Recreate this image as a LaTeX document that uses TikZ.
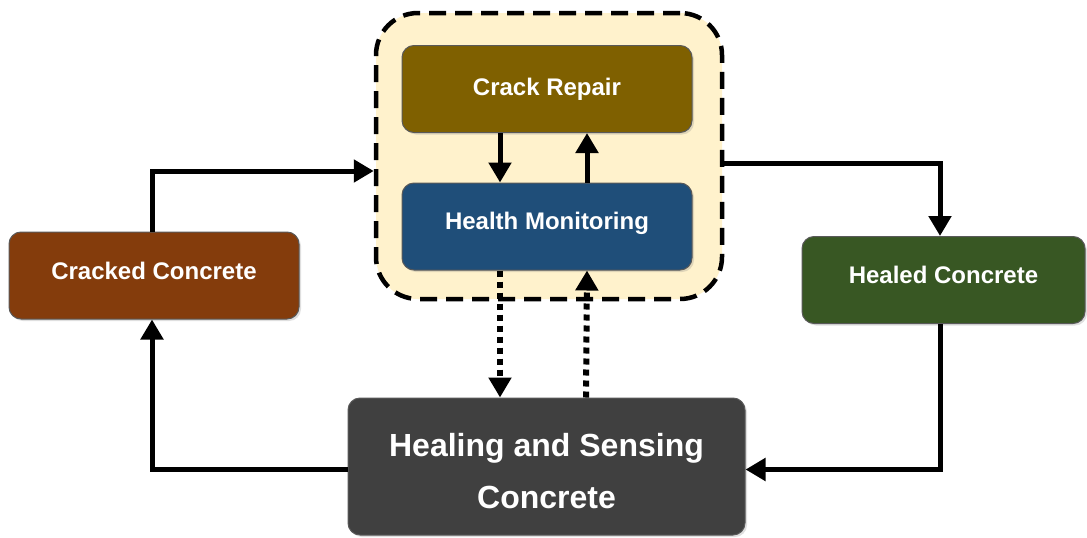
\documentclass[tikz,border=0pt]{standalone}
\usepackage{fontspec}
\setmainfont{Liberation Sans}
\usetikzlibrary{arrows.meta,shadows}
\definecolor{repairc}{HTML}{7F6000}
\definecolor{monitorc}{HTML}{1F4E79}
\definecolor{crackedc}{HTML}{843C0C}
\definecolor{healedc}{HTML}{385723}
\definecolor{healingc}{HTML}{404040}
\definecolor{contc}{HTML}{FFF2CC}
\tikzset{
  box/.style={rectangle, rounded corners=12pt, draw=black!65, line width=1pt,
    text=white, font=\bfseries\fontsize{24}{29}\selectfont, align=center,
    drop shadow={shadow xshift=2pt, shadow yshift=-2pt, opacity=0.25}},
  bigtext/.style={text=white, font=\bfseries\fontsize{32}{52}\selectfont, align=center},
  container/.style={rectangle, rounded corners=42pt, fill=contc, draw=black,
    line width=4.5pt, dash pattern=on 17pt off 9pt},
  arr/.style={line width=5pt, -{Triangle[width=22pt,length=20pt]}},
  dotarr/.style={line width=6pt, dash pattern=on 6pt off 5pt, -{Triangle[width=22pt,length=20pt]}}
}
\begin{document}
\begin{tikzpicture}[x=1pt,y=-1pt]
\useasboundingbox (0,0) rectangle (1087,538);
\node[container, minimum width=346pt, minimum height=286pt] (cont) at (549,156) {};
\node[box, fill=repairc, minimum width=290pt, minimum height=87pt] (repair) at (547,89) {Crack Repair};
\node[box, fill=monitorc, minimum width=290pt, minimum height=87pt, text depth=11pt] (hm) at (547,226.5) {Health Monitoring};
\node[box, fill=crackedc, minimum width=290pt, minimum height=87pt, text depth=10pt] (cracked) at (154,275.5) {Cracked Concrete};
\node[box, fill=healedc, minimum width=283pt, minimum height=87pt, text depth=10pt] (healed) at (943.5,280) {Healed Concrete};
\node[box, fill=healingc, minimum width=397pt, minimum height=137pt] (heal) at (546.5,466.5) {};
\node[bigtext] (healtext) at ([yshift=-5pt]heal.center) {Healing and Sensing\\Concrete};
\draw[arr] ([xshift=-47pt]repair.south) -- ([xshift=-47pt]hm.north);
\draw[arr] ([xshift=40pt]hm.north) -- ([xshift=40pt]repair.south);
\draw[dotarr] ([xshift=-47pt]hm.south) -- ([xshift=-46.5pt]heal.north);
\draw[dotarr] ([xshift=39.5pt]heal.north) -- ([xshift=40pt]hm.south);
\draw[arr] ([xshift=-2pt]cracked.north) |- ([yshift=-15pt]cont.west);
\draw[arr] ([yshift=-7pt]cont.east) -| ([xshift=-3.5pt]healed.north);
\draw[arr] ([xshift=-3.5pt]healed.south) |- ([yshift=-3pt]heal.east);
\draw[arr] ([yshift=-3pt]heal.west) -| ([xshift=-2pt]cracked.south);
\end{tikzpicture}
\end{document}
